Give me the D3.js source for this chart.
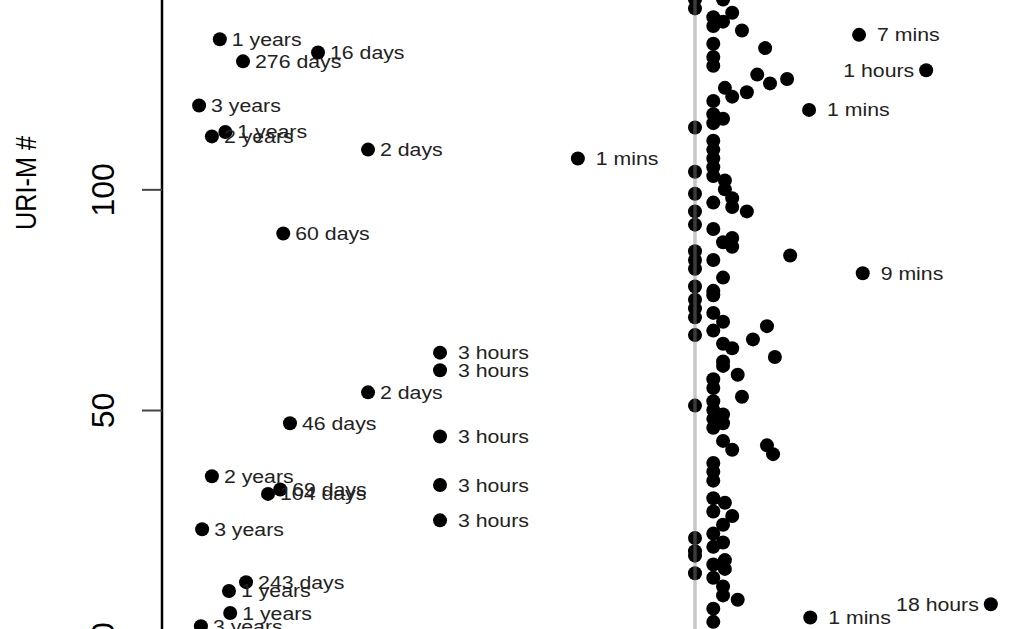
<!DOCTYPE html>
<html>
<head>
<meta charset="utf-8">
<script src="https://cdn.jsdelivr.net/npm/d3@7"></script>
<style>
  body { margin: 0; background: #fff; }
  svg { display: block; }
  text { font-family: "Liberation Sans", Arial, sans-serif; }
</style>
</head>
<body>
<svg></svg>
<script>
// delta = signed log10 of the time gap (0 = the grey reference line)
const labelIdx = [134, 129, 131, 119, 112, 113, 109, 107, 90, 63, 59, 54, 47, 44, 35, 32, 31, 33, 25, 23, 11, 9, 4, 1,
                  135, 127, 118, 81, 3, 6];
const labelDelta = [-7.79, -7.41, -6.18, -8.13, -7.92, -7.70, -5.36, -1.92, -6.75, -4.18, -4.18, -5.36, -6.64, -4.18,
                    -7.92, -6.80, -7.00, -4.18, -4.18, -8.08, -7.36, -7.64, -7.62, -8.10,
                    2.69, 3.79, 1.87, 2.75, 1.89, 4.85];
const labelText = ["1 years", "276 days", "16 days", "3 years", "2 years", "1 years", "2 days", " 1 mins", "60 days",
                   " 3 hours", " 3 hours", "2 days", "46 days", " 3 hours", "2 years", "69 days", "104 days", " 3 hours",
                   " 3 hours", "3 years", "243 days", "1 years", "1 years", "3 years",
                   " 7 mins", "1 hours", " 1 mins", " 9 mins", " 1 mins", "18 hours"];

// unlabelled mementos close to the reference line
const nearIdx = [141, 143, 114, 104, 99, 95, 92, 86, 84, 82, 78, 75, 73, 71, 67, 51, 21, 18, 17, 13,
                 139, 137, 133, 130, 128, 120, 117, 115, 111, 109, 107, 105, 103, 97, 91, 84, 77, 76, 72, 68,
                 57, 55, 52, 50, 48, 46, 38, 36, 34, 30, 27, 22, 19, 15, 12, 5, 2,
                 143, 138, 116, 88, 80, 70, 65, 61, 60, 49, 47, 43, 24, 20, 10, 8,
                 123, 102, 100, 29, 16, 14,
                 140, 121, 98, 96, 89, 87, 64, 41, 26,
                 58, 7, 136, 53, 122, 95, 66, 126, 132, 69, 42, 124, 40, 62, 125, 85];
const nearDelta = [0, 0, 0, 0, 0, 0, 0, 0, 0, 0, 0, 0, 0, 0, 0, 0, 0, 0, 0, 0,
                   0.30, 0.30, 0.30, 0.30, 0.30, 0.30, 0.30, 0.30, 0.30, 0.30, 0.30, 0.30, 0.30, 0.30, 0.30, 0.30, 0.30, 0.30, 0.30, 0.30,
                   0.30, 0.30, 0.30, 0.30, 0.30, 0.30, 0.30, 0.30, 0.30, 0.30, 0.30, 0.30, 0.30, 0.30, 0.30, 0.30, 0.30,
                   0.46, 0.46, 0.46, 0.46, 0.46, 0.46, 0.46, 0.46, 0.46, 0.46, 0.46, 0.46, 0.46, 0.46, 0.46, 0.46,
                   0.49, 0.49, 0.49, 0.49, 0.49, 0.49,
                   0.61, 0.61, 0.61, 0.61, 0.61, 0.61, 0.61, 0.61, 0.61,
                   0.70, 0.70, 0.77, 0.77, 0.85, 0.85, 0.95, 1.02, 1.15, 1.18, 1.18, 1.23, 1.28, 1.31, 1.51, 1.56];

const yTicks = [0, 50, 100];
const yTitle = "URI-M #";

const width = 1017;
const height = 629;
const svg = d3.select("svg")
    .attr("width", width)
    .attr("height", height);

const axisX = 162;
// the source picture is stretched sideways a little, so text is widened to match
const stretch = 1.15;

const x = d3.scaleLinear()
    .domain([-8.738, 5.279])
    .range([axisX, width]);

const y = d3.scaleLinear()
    .domain([0, 142.9])
    .range([630.7, 0]);

// y axis
const yAxis = svg.append("g")
    .attr("transform", `translate(${axisX},0)`)
    .call(d3.axisLeft(y).tickValues(yTicks).tickSize(20).tickSizeOuter(0).tickPadding(0));

yAxis.select(".domain")
    .attr("d", `M0,-5V${height + 5}`)
    .attr("stroke", "#000")
    .attr("stroke-width", 2.5);

yAxis.selectAll(".tick line")
    .attr("stroke", "#444")
    .attr("stroke-width", 2);

yAxis.selectAll(".tick text")
    .attr("transform", "rotate(-90)")
    .attr("x", 0)
    .attr("y", -59)
    .attr("dy", null)
    .attr("text-anchor", "middle")
    .attr("dominant-baseline", "central")
    .attr("fill", "#000")
    .style("font-size", "32px")
    .style("font-family", "'Liberation Sans', Arial, sans-serif");

svg.append("text")
    .attr("transform", `translate(26,183) rotate(-90) scale(${1 / stretch},1)`)
    .attr("text-anchor", "middle")
    .attr("dominant-baseline", "central")
    .style("font-size", "29px")
    .text(yTitle);

// points
const near = nearIdx.map((d, i) => ({ idx: d, delta: nearDelta[i] }));
const labelled = labelIdx.map((d, i) => ({ idx: d, delta: labelDelta[i], text: labelText[i] }));

const dotR = 7;

svg.append("g")
    .selectAll("circle")
    .data(near.concat(labelled))
    .join("circle")
    .attr("cx", d => x(d.delta))
    .attr("cy", d => y(d.idx))
    .attr("r", dotR)
    .attr("fill", "#000");

svg.append("g")
    .selectAll("text")
    .data(labelled)
    .join("text")
    .attr("transform", d => {
        const px = x(d.delta) > 900 ? x(d.delta) - 12 : x(d.delta) + 12;
        return `translate(${px},${y(d.idx)}) scale(${stretch},1)`;
    })
    .attr("dy", "0.35em")
    .attr("text-anchor", d => x(d.delta) > 900 ? "end" : "start")
    .style("font-size", "18.5px")
    .style("white-space", "pre")
    .attr("fill", "#222")
    .text(d => d.text);

// reference line, drawn over the points
svg.append("line")
    .attr("x1", x(0))
    .attr("x2", x(0))
    .attr("y1", 0)
    .attr("y2", height)
    .attr("stroke", "#838383")
    .attr("stroke-opacity", 0.45)
    .attr("stroke-width", 3.5);
</script>
</body>
</html>
